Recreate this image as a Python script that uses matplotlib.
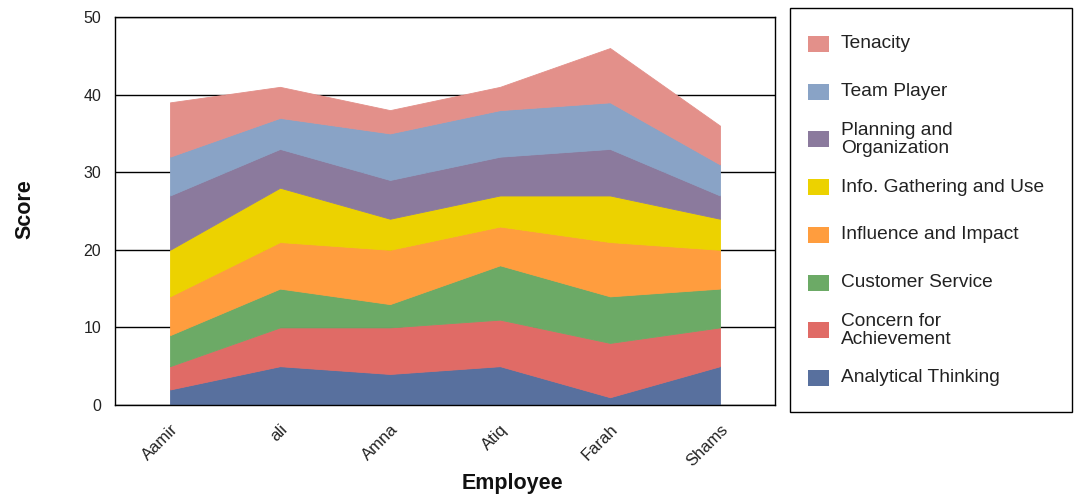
import numpy as np
import matplotlib.pyplot as plt
from matplotlib.patches import Rectangle

# Données
employees = ['Aamir', 'ali', 'Amna', 'Atiq', 'Farah', 'Shams']

analytical = [2, 5, 4, 5, 1, 5]
concern = [3, 5, 6, 6, 7, 5]
customer = [4, 5, 3, 7, 6, 5]
influence = [5, 6, 7, 5, 7, 5]
info_use = [6, 7, 4, 4, 6, 4]
planning = [7, 5, 5, 5, 6, 3]
team = [5, 4, 6, 6, 6, 4]
tenacity = [7, 4, 3, 3, 7, 5]

series = [analytical, concern, customer, influence, info_use, planning, team, tenacity]
names = ['Analytical Thinking', 'Concern for\nAchievement', 'Customer Service',
         'Influence and Impact', 'Info. Gathering and Use', 'Planning and\nOrganization',
         'Team Player', 'Tenacity']
colors = ['#58709e', '#e06b66', '#6caa66', '#ff9d3e', '#ecd200', '#8b7a9d',
          '#89a3c6', '#e3908a']

W, H = 1076, 499
plt.rcParams['font.family'] = ['Liberation Sans', 'DejaVu Sans']

fig = plt.figure(figsize=(W / 100, H / 100), dpi=100)
ax = fig.add_axes([115 / W, (H - 405) / H, 660 / W, 388 / H])

x = np.arange(len(employees))
ax.stackplot(x, *series, colors=colors, edgecolor='face', linewidth=0.6)

ax.set_xlim(-0.5, len(employees) - 0.5)
ax.set_ylim(0, 50)
ax.set_yticks([0, 10, 20, 30, 40, 50])
ax.set_xticks(x)
ax.set_xticklabels(employees, rotation=45, ha='right', va='top',
                   rotation_mode='anchor', fontsize=12, color='#222222')
ax.tick_params(axis='y', length=0, pad=10, labelsize=11.5, labelcolor='#222222')
ax.tick_params(axis='x', length=0, pad=12)
ax.set_axisbelow(True)
ax.yaxis.grid(True, color='black', linewidth=1)
for s in ax.spines.values():
    s.set_color('black')
    s.set_linewidth(1)

fig.text(25 / W, 1 - 209 / H, 'Score', rotation=90, ha='center', va='center',
         fontsize=15.5, fontweight='bold', color='#111111')
fig.text(512 / W, 1 - 484 / H, 'Employee', ha='center', va='center',
         fontsize=15.5, fontweight='bold', color='#111111')

# Légende
fig.add_artist(Rectangle((790 / W, 1 - 412 / H), 282 / W, 404 / H, transform=fig.transFigure,
                         facecolor='white', edgecolor='black', linewidth=1))
for i, (name, c) in enumerate(zip(names[::-1], colors[::-1])):
    yc = 44 + i * 47.7
    fig.add_artist(Rectangle((808 / W, 1 - (yc + 8) / H), 21 / W, 16 / H,
                             transform=fig.transFigure, facecolor=c, edgecolor='none'))
    fig.text(841 / W, 1 - yc / H, name, ha='left', va='center', fontsize=13.8,
             linespacing=1.1, color='#222222')

plt.savefig('out.png', dpi=100)
